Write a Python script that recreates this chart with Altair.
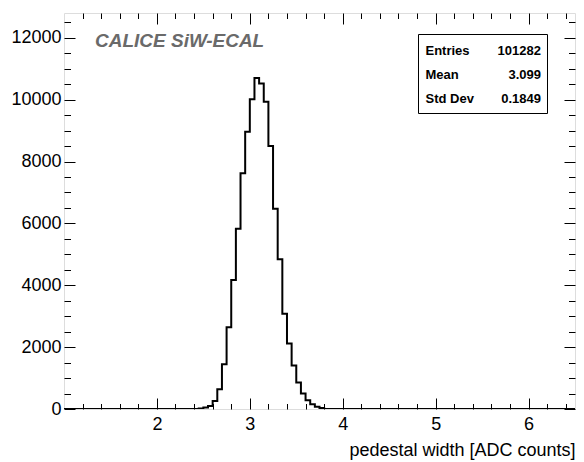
import altair as alt
import pandas as pd

# ---- data ----
bin_left = [2.45, 2.50, 2.55, 2.60, 2.65, 2.70, 2.75, 2.80, 2.85, 2.90, 2.95,
            3.00, 3.05, 3.10, 3.15, 3.20, 3.25, 3.30, 3.35, 3.40, 3.45, 3.50,
            3.55, 3.60, 3.65, 3.70, 3.75]
counts = [20, 50, 100, 260, 640, 1450, 2640, 4170, 5830, 7620, 8960,
          10010, 10700, 10520, 9930, 8500, 6470, 4840, 3080, 2120, 1410, 860,
          500, 280, 150, 75, 30]
bin_width = 0.05
x_range = [1.0, 6.5]
y_range = [0, 12800]
x_major = [2, 3, 4, 5, 6]
x_minor = [1.2, 1.4, 1.6, 1.8, 2.2, 2.4, 2.6, 2.8, 3.2, 3.4, 3.6, 3.8,
           4.2, 4.4, 4.6, 4.8, 5.2, 5.4, 5.6, 5.8, 6.2, 6.4]
y_major = [0, 2000, 4000, 6000, 8000, 10000, 12000]
y_minor = [500, 1000, 1500, 2500, 3000, 3500, 4500, 5000, 5500, 6500, 7000,
           7500, 8500, 9000, 9500, 10500, 11000, 11500, 12500]
stats_names = ["Entries", "Mean", "Std Dev"]
stats_values = ["101282", "3.099", "0.1849"]
label_text = "CALICE SiW-ECAL"
x_title = "pedestal width [ADC counts]"

W, H = 511, 396
PAD_L, PAD_T, PAD_R, PAD_B = 56, 5, 1, 52
FONT = "Liberation Sans"

# step outline: start at left edge of range, bins, back to zero, to right edge
xs = [x_range[0]] + bin_left + [round(bin_left[-1] + bin_width, 3), x_range[1]]
ys = [0] + counts + [0, 0]
df = pd.DataFrame({"x": xs, "y": ys})

xscale = alt.Scale(domain=x_range, nice=False, zero=False)
yscale = alt.Scale(domain=y_range, nice=False, zero=True)

base = alt.Chart(df)

hist = base.mark_line(interpolate="step-after", color="black",
                      strokeWidth=2, clip=True).encode(
    x=alt.X("x:Q", scale=xscale,
            axis=alt.Axis(orient="bottom", values=x_major, format="d",
                          tickSize=0, labelPadding=6, domain=False, grid=False,
                          labelFont=FONT, labelFontSize=18, labelColor="black",
                          title=x_title, titleFont=FONT, titleFontSize=18,
                          titleFontWeight="normal", titleColor="black",
                          titleAnchor="end", titleAlign="right",
                          titleBaseline="alphabetic", titleY=46, titleX=W)),
    y=alt.Y("y:Q", scale=yscale,
            axis=alt.Axis(orient="left", values=y_major, format="d",
                          tickSize=0, labelPadding=3, domain=False, grid=False,
                          labelFont=FONT, labelFontSize=18, labelColor="black",
                          title=None)),
)


def tick_layer(xorient, yorient, xvals, yvals, xsize, ysize):
    return base.mark_point(opacity=0).encode(
        x=alt.X("x:Q", scale=xscale,
                axis=alt.Axis(orient=xorient, offset=-H, values=xvals,
                              tickSize=xsize, tickColor="black", tickWidth=1,
                              labels=False, domain=False, grid=False, title=None)),
        y=alt.Y("y:Q", scale=yscale,
                axis=alt.Axis(orient=yorient, offset=-W, values=yvals,
                              tickSize=ysize, tickColor="black", tickWidth=1,
                              labels=False, domain=False, grid=False, title=None)),
    )


t1 = tick_layer("top", "right", x_major, y_major, 11, 11)
t2 = tick_layer("top", "right", x_minor, y_minor, 5.5, 6.5)
t3 = tick_layer("bottom", "left", x_major, y_major, 11, 11)
t4 = tick_layer("bottom", "left", x_minor, y_minor, 5.5, 6.5)

one = pd.DataFrame({"a": [0]})

calice = alt.Chart(pd.DataFrame({"t": [label_text]})).mark_text(
    font=FONT, fontSize=19, fontWeight="bold", fontStyle="italic",
    color="#6a6a6a", align="left", baseline="alphabetic").encode(
    text="t:N", x=alt.value(31), y=alt.value(34))

# stats box (pixel placement relative to plot area)
BX0, BX1, BY0, BY1 = 354.5, 483.5, 21.5, 100.5
box = alt.Chart(one).mark_rect(fill="white", stroke="black", strokeWidth=1).encode(
    x=alt.value(BX0), x2=alt.value(BX1), y=alt.value(BY0), y2=alt.value(BY1))

row_y = [42, 66, 90]
stat_layers = []
for name, val, yy in zip(stats_names, stats_values, row_y):
    sd = pd.DataFrame({"name": [name], "val": [val]})
    stat_layers.append(alt.Chart(sd).mark_text(
        font=FONT, fontSize=13, fontWeight="bold", align="left",
        baseline="alphabetic", color="black").encode(
        text="name:N", x=alt.value(BX0 + 7), y=alt.value(yy)))
    stat_layers.append(alt.Chart(sd).mark_text(
        font=FONT, fontSize=13, fontWeight="bold", align="right",
        baseline="alphabetic", color="black").encode(
        text="val:N", x=alt.value(BX1 - 6.5), y=alt.value(yy)))

chart = alt.layer(hist, t1, t2, t3, t4, calice, box, *stat_layers).resolve_axis(
    x="independent", y="independent"
).properties(
    width=W, height=H,
    autosize=alt.AutoSizeParams(type="none"),
    padding={"left": PAD_L, "top": PAD_T, "right": PAD_R, "bottom": PAD_B},
).configure_view(stroke="black", strokeWidth=1).configure(background="white")

chart.save("out.html", embed_options={"renderer": "svg", "actions": False})
